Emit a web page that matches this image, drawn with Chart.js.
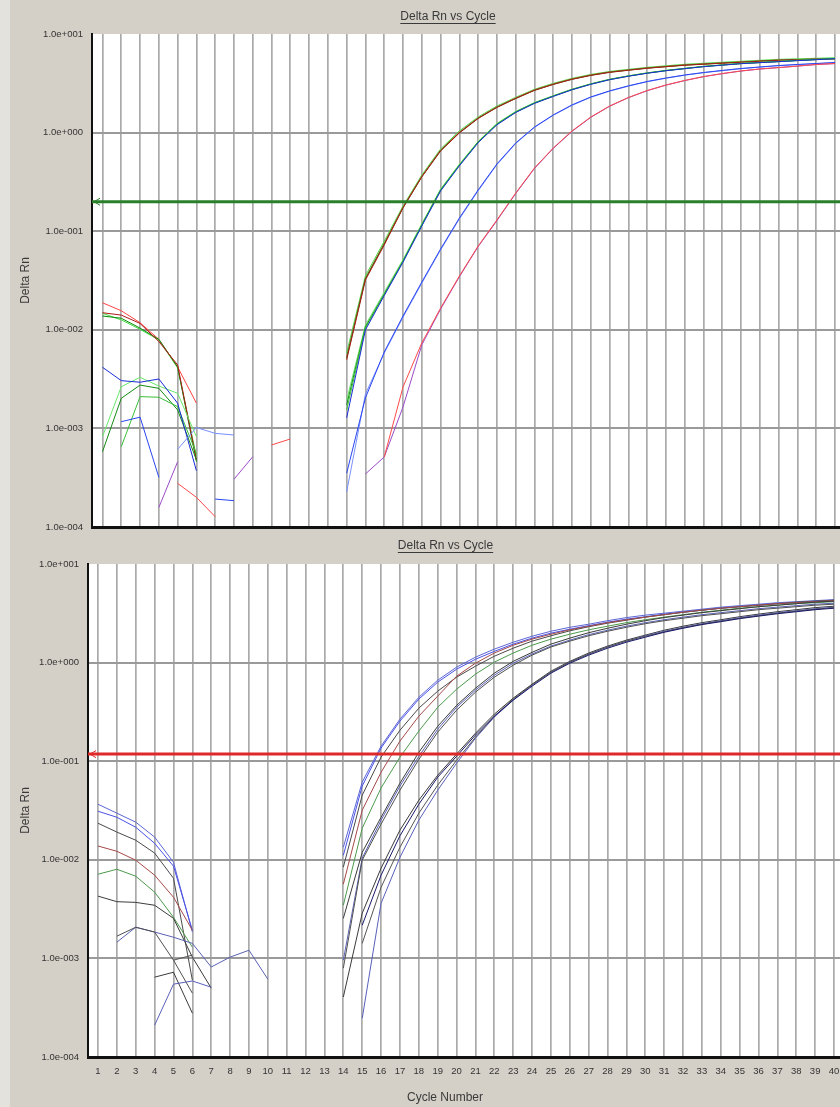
<!DOCTYPE html>
<html><head><meta charset="utf-8">
<script src="https://cdn.jsdelivr.net/npm/chart.js@4/dist/chart.umd.min.js"></script>
<style>
html,body{margin:0;padding:0;background:#d4d0c8;width:840px;height:1107px;overflow:hidden;position:relative}
#strip{position:absolute;left:0;top:0;width:10px;height:1107px;background:#e4e2dc}
.wrap{position:absolute;left:0;width:840px}
#w1{top:0;height:532px}
#w2{top:532px;height:575px}
canvas{display:block}
</style></head><body>
<div id="strip"></div>
<div class="wrap" id="w1"><canvas id="c1" width="840" height="532"></canvas></div>
<div class="wrap" id="w2"><canvas id="c2" width="840" height="575"></canvas></div>
<script>
const cycles = [1,2,3,4,5,6,7,8,9,10,11,12,13,14,15,16,17,18,19,20,21,22,23,24,25,26,27,28,29,30,31,32,33,34,35,36,37,38,39,40];
const yTickValues = [1e-4,1e-3,1e-2,1e-1,1,10];
const chartTitle = 'Delta Rn vs Cycle';
const yTitle = 'Delta Rn';
const xTitle = 'Cycle Number';
const topThreshold = 0.199;
const bottomThreshold = 0.118;
const N = null;

// ---- top panel series ----
const topA1 = [0.0188,0.0156,0.0118,0.0080,0.0042,0.0018,N,N,N,N,N,N,N,0.0053,0.0334,0.0755,0.175,0.361,0.665,1.01,1.41,1.82,2.24,2.71,3.11,3.50,3.84,4.12,4.32,4.53,4.69,4.86,4.97,5.09,5.20,5.33,5.45,5.51,5.58,5.64];
const topA2 = [0.0149,0.0141,0.0116,0.0076,0.0044,0.00048,N,N,N,N,N,N,N,0.00496,0.0320,0.0724,0.172,0.355,0.650,0.991,1.39,1.80,2.22,2.68,3.08,3.47,3.80,4.08,4.29,4.49,4.66,4.82,4.94,5.05,5.17,5.29,5.40,5.47,5.54,5.60];
const topA3 = [0.0147,0.0126,0.0101,0.0079,0.0041,0.00052,N,N,N,N,N,N,N,0.00582,0.0353,0.0791,0.180,0.371,0.682,1.04,1.44,1.86,2.28,2.75,3.16,3.55,3.89,4.17,4.38,4.59,4.76,4.93,5.05,5.17,5.29,5.41,5.53,5.60,5.67,5.74];
const topA4 = [0.0138,0.0131,0.0104,0.0080,0.0042,0.00046,N,N,N,N,N,N,N,0.00518,0.0330,0.0745,0.173,0.357,0.658,1.00,1.40,1.81,2.22,2.69,3.09,3.48,3.82,4.10,4.30,4.51,4.67,4.84,4.95,5.07,5.18,5.31,5.43,5.49,5.56,5.62];
const topB1 = [0.000824,0.00265,0.00330,0.00269,0.00227,0.000824,N,N,N,N,N,N,N,0.00194,0.0112,0.0240,0.0515,0.119,0.268,0.478,0.815,1.24,1.64,2.02,2.37,2.76,3.13,3.48,3.77,4.04,4.28,4.49,4.70,4.87,5.04,5.16,5.28,5.41,5.53,5.66];
const topB2 = [0.000581,0.00202,0.00275,0.00255,0.00154,0.000479,N,N,N,N,N,N,N,0.00173,0.0107,0.0231,0.0499,0.116,0.262,0.469,0.803,1.22,1.62,2.00,2.35,2.74,3.11,3.46,3.75,4.02,4.26,4.47,4.68,4.85,5.02,5.14,5.26,5.39,5.51,5.64];
const topB3 = [0.00417,0.00305,0.00294,0.00317,0.00180,0.000372,N,N,N,N,N,N,N,0.00128,0.00998,0.0222,0.0485,0.113,0.256,0.460,0.790,1.20,1.60,1.98,2.33,2.72,3.09,3.44,3.73,4.00,4.24,4.45,4.66,4.83,5.00,5.12,5.24,5.37,5.49,5.62];
const topB4 = [N,0.000652,0.00210,0.00207,0.00166,0.000558,N,N,N,N,N,N,N,0.00154,0.0104,0.0226,0.0492,0.114,0.259,0.465,0.797,1.21,1.61,1.99,2.34,2.73,3.10,3.45,3.74,4.01,4.25,4.46,4.67,4.84,5.01,5.13,5.25,5.38,5.50,5.63];
const topC1 = [N,0.00117,0.00130,0.000319,N,N,0.000192,0.000185,N,N,N,N,N,0.000351,0.00204,0.00595,0.0138,0.0305,0.0660,0.136,0.262,0.481,0.785,1.14,1.51,1.91,2.30,2.65,2.98,3.30,3.58,3.84,4.07,4.27,4.47,4.63,4.79,4.91,5.02,5.14];
const topC2 = [N,N,N,N,0.000614,0.00102,0.000891,0.000857,N,N,N,N,N,0.000227,0.00223,0.00580,0.0134,0.0297,0.0645,0.133,0.257,0.473,0.774,1.13,1.50,1.89,2.28,2.63,2.96,3.28,3.56,3.82,4.05,4.25,4.45,4.61,4.77,4.89,5.00,5.12];
const topD1 = [N,N,N,N,0.000277,0.000200,0.000127,N,N,0.000679,0.000781,N,N,N,N,0.000513,0.00263,0.00735,0.0166,0.0351,0.0708,0.130,0.244,0.438,0.698,1.04,1.44,1.86,2.27,2.67,3.04,3.38,3.70,3.97,4.22,4.42,4.57,4.73,4.91,5.02];
const topD2 = [N,N,N,0.000158,0.000459,N,N,0.000305,0.000516,N,N,N,N,N,0.000345,0.000513,0.00165,0.00702,0.0162,0.0345,0.0698,0.128,0.241,0.433,0.692,1.03,1.43,1.85,2.26,2.66,3.03,3.37,3.69,3.96,4.21,4.41,4.56,4.72,4.90,5.01];

// ---- bottom panel series ----
const botS1 = [0.0366,0.0297,0.0241,0.0170,0.00944,0.00185,N,N,N,N,N,N,N,0.0134,0.0613,0.142,0.267,0.445,0.663,0.898,1.135,1.37,1.61,1.85,2.08,2.28,2.45,2.66,2.86,3.03,3.17,3.32,3.48,3.65,3.78,3.91,4.05,4.15,4.25,4.35];
const botS2 = [0.0311,0.0270,0.0214,0.0147,0.00862,0.00193,N,N,N,N,N,N,N,0.0111,0.0559,0.136,0.255,0.426,0.633,0.857,1.08,1.30,1.54,1.77,1.99,2.18,2.37,2.57,2.76,2.92,3.10,3.24,3.40,3.56,3.69,3.82,3.96,4.05,4.15,4.25];
const botS3 = [0.0235,0.0191,0.0158,0.0117,0.00650,0.000601,N,N,N,N,N,N,N,0.00843,0.0452,0.110,0.206,0.345,0.513,0.711,0.919,1.16,1.40,1.65,1.87,2.10,2.31,2.51,2.69,2.89,3.06,3.24,3.40,3.56,3.69,3.82,3.96,4.10,4.20,4.30];
const botS4 = [0.0138,0.0122,0.00991,0.00698,0.00417,0.00193,N,N,N,N,N,N,N,0.00566,0.0318,0.0772,0.160,0.286,0.457,0.728,0.986,1.25,1.50,1.73,1.94,2.15,2.34,2.54,2.72,2.89,3.06,3.24,3.40,3.56,3.69,3.82,3.96,4.05,4.15,4.25];
const botS5 = [0.00714,0.00802,0.00682,0.00470,0.00261,0.00130,N,N,N,N,N,N,N,0.00346,0.0209,0.0535,0.110,0.202,0.352,0.537,0.763,1.01,1.25,1.50,1.73,1.94,2.15,2.34,2.54,2.72,2.89,3.06,3.24,3.40,3.56,3.69,3.82,3.96,4.05,4.15];
const botS6 = [0.00428,0.00376,0.00370,0.00346,0.00255,0.00103,0.000499,N,N,N,N,N,N,0.00255,0.0119,0.0270,0.0598,0.123,0.226,0.368,0.549,0.781,1.03,1.27,1.54,1.77,2.01,2.23,2.45,2.66,2.86,3.03,3.21,3.36,3.52,3.69,3.82,3.96,4.10,4.20];
const botS7 = [N,0.00146,0.00207,0.00185,0.00164,0.00142,0.000818,0.00103,0.00121,0.000615,N,N,N,0.000959,0.0104,0.0252,0.0559,0.112,0.211,0.352,0.525,0.745,0.986,1.22,1.47,1.69,1.92,2.13,2.34,2.54,2.72,2.89,3.06,3.21,3.36,3.52,3.65,3.78,3.91,4.00];
const botS8 = [N,0.00168,0.00207,0.00185,0.000959,0.000444,N,N,N,N,N,N,N,0.000796,0.00991,0.0230,0.0508,0.104,0.197,0.329,0.501,0.711,0.941,1.19,1.44,1.65,1.87,2.08,2.28,2.48,2.66,2.82,2.99,3.13,3.28,3.44,3.56,3.69,3.82,3.91];
const botS9 = [N,N,N,0.000645,0.000724,0.000278,N,N,N,N,N,N,N,0.000406,0.00287,0.00823,0.0200,0.0402,0.0721,0.118,0.192,0.300,0.436,0.604,0.818,1.03,1.25,1.47,1.69,1.90,2.13,2.34,2.54,2.72,2.92,3.10,3.28,3.44,3.61,3.73];
const botS10 = [N,N,N,0.000210,0.000548,0.000590,0.000510,N,N,N,N,N,N,N,0.000247,0.00362,0.0106,0.0252,0.0508,0.0954,0.171,0.280,0.416,0.590,0.799,1.01,1.22,1.44,1.65,1.87,2.08,2.28,2.48,2.66,2.86,3.03,3.21,3.36,3.52,3.65];
const botS11 = [N,N,N,N,0.000959,0.00108,N,N,N,N,N,N,N,N,0.00142,0.00526,0.0134,0.0297,0.0571,0.102,0.175,0.286,0.426,0.597,0.799,1.01,1.22,1.44,1.65,1.85,2.05,2.26,2.45,2.63,2.82,2.99,3.17,3.32,3.48,3.61];
const botS12 = [N,N,N,N,N,N,N,N,N,N,N,N,N,N,0.00217,0.00698,0.0175,0.0366,0.0688,0.112,0.184,0.286,0.416,0.577,0.781,0.986,1.19,1.40,1.61,1.81,2.03,2.23,2.43,2.60,2.79,2.96,3.13,3.28,3.44,3.56];

// first entry is drawn on top
const topSeries = [
  {data: topD1, color: '#ff4a4a'},
  {data: topD2, color: '#9a4cc8'},
  {data: topC1, color: '#2a46f0'},
  {data: topC2, color: '#7890ff'},
  {data: topB3, color: '#1a2ad8'},
  {data: topB4, color: '#38c038'},
  {data: topB2, color: '#148c14'},
  {data: topB1, color: '#6ae86a'},
  {data: topA2, color: '#b01818'},
  {data: topA4, color: '#0a8a0a'},
  {data: topA1, color: '#ff4444'},
  {data: topA3, color: '#44dd44'}
];
const bottomSeries = [
  {data: botS12, color: '#1a1a6a'},
  {data: botS11, color: '#555555'},
  {data: botS10, color: '#5860bc'},
  {data: botS9, color: '#3a3a3a'},
  {data: botS8, color: '#505050'},
  {data: botS7, color: '#5a62b4'},
  {data: botS6, color: '#3c3c3c'},
  {data: botS5, color: '#4c9a4c'},
  {data: botS4, color: '#a54a48'},
  {data: botS3, color: '#4a4a4a'},
  {data: botS2, color: '#4a52e6'},
  {data: botS1, color: '#5c66d6'}
];

const FONT = '"Liberation Sans", Arial, sans-serif';

const decor = {
  id: 'decor',
  beforeDraw(chart) {
    const {ctx, chartArea: a} = chart;
    ctx.save();
    ctx.fillStyle = '#ffffff';
    ctx.fillRect(a.left, a.top, a.right - a.left, a.bottom - a.top);
    ctx.restore();
  },
  afterDatasetsDraw(chart, args, o) {
    const {ctx, chartArea: a, scales: {y}} = chart;
    const py = y.getPixelForValue(o.threshold);
    ctx.save();
    ctx.strokeStyle = o.thrColor;
    ctx.lineWidth = 3;
    ctx.beginPath(); ctx.moveTo(a.left, py); ctx.lineTo(a.right, py); ctx.stroke();
    ctx.lineWidth = 1;
    ctx.beginPath(); ctx.moveTo(a.left + 8, py - 3.5); ctx.lineTo(a.left + 2, py); ctx.lineTo(a.left + 8, py + 3.5); ctx.stroke();
    ctx.restore();
  },
  afterDraw(chart, args, o) {
    const {ctx} = chart;
    ctx.save();
    ctx.font = '12px ' + FONT;
    ctx.fillStyle = '#3a3a3a';
    ctx.strokeStyle = '#3a3a3a';
    ctx.textAlign = 'center';
    ctx.textBaseline = 'middle';
    ctx.fillText(chartTitle, o.titleX, o.titleY);
    const w = ctx.measureText(chartTitle).width;
    ctx.lineWidth = 1;
    ctx.beginPath();
    ctx.moveTo(o.titleX - w / 2, o.titleY + 6.5);
    ctx.lineTo(o.titleX + w / 2, o.titleY + 6.5);
    ctx.stroke();
    if (o.xTitleY) ctx.fillText(xTitle, o.xTitleX, o.xTitleY);
    ctx.restore();
  }
};

function fmtExp(v) {
  const e = Math.round(Math.log10(v));
  return '1.0e' + (e < 0 ? '-' : '+') + String(Math.abs(e)).padStart(3, '0');
}

function makeChart(id, series, cfg) {
  return new Chart(document.getElementById(id), {
    type: 'line',
    data: {
      datasets: series.map(s => ({
        data: cycles.map((c, i) => ({x: c, y: s.data[i]})),
        borderColor: s.color,
        borderWidth: 1,
        pointRadius: 0,
        tension: 0,
        fill: false,
        spanGaps: false
      }))
    },
    options: {
      responsive: false,
      animation: false,
      events: [],
      layout: {padding: {top: cfg.padTop, left: 0, right: 0, bottom: 0}},
      plugins: {
        legend: {display: false},
        tooltip: {enabled: false},
        title: {display: false},
        decor: cfg.decor
      },
      scales: {
        x: {
          type: 'linear',
          min: cfg.xMin,
          max: cfg.xMax,
          afterBuildTicks: s => { s.ticks = cycles.map(c => ({value: c})); },
          afterFit: s => { s.height = cfg.xHeight; s.paddingLeft = 0; s.paddingRight = 0; },
          grid: {color: '#aaaaaa', lineWidth: 1.7, drawTicks: false},
          border: {display: true, color: '#111', width: 3},
          ticks: {
            display: cfg.xLabels, autoSkip: false, maxRotation: 0, padding: 9,
            color: '#333', font: {family: FONT, size: 9.5},
            callback: v => String(v)
          }
        },
        y: {
          type: 'logarithmic',
          min: 1e-4,
          max: 10,
          afterBuildTicks: s => { s.ticks = yTickValues.map(v => ({value: v})); },
          afterFit: s => { s.width = cfg.yWidth; s.paddingTop = 0; s.paddingBottom = 0; },
          grid: {
            color: c => (c.tick && c.tick.value === 10) ? 'rgba(0,0,0,0)' : '#9a9a9a',
            lineWidth: 2, drawTicks: false
          },
          border: {display: true, color: '#111', width: 2},
          ticks: {
            padding: 9, color: '#333', font: {family: FONT, size: 9.5},
            callback: v => fmtExp(v)
          },
          title: {
            display: true, text: yTitle, color: '#3a3a3a',
            font: {family: FONT, size: 12}, padding: {top: 18.8, bottom: 0}
          }
        }
      }
    },
    plugins: [decor]
  });
}

makeChart('c1', topSeries, {
  padTop: 34, xMin: 0.441, xMax: 40.266, xHeight: 5, yWidth: 92, xLabels: false,
  decor: {threshold: topThreshold, thrColor: '#2a7f2a', titleX: 448, titleY: 17}
});
makeChart('c2', bottomSeries, {
  padTop: 32, xMin: 0.470, xMax: 40.318, xHeight: 50, yWidth: 88, xLabels: true,
  decor: {threshold: bottomThreshold, thrColor: '#e02828', titleX: 445.5, titleY: 14, xTitleX: 445, xTitleY: 566}
});
</script>
</body></html>
